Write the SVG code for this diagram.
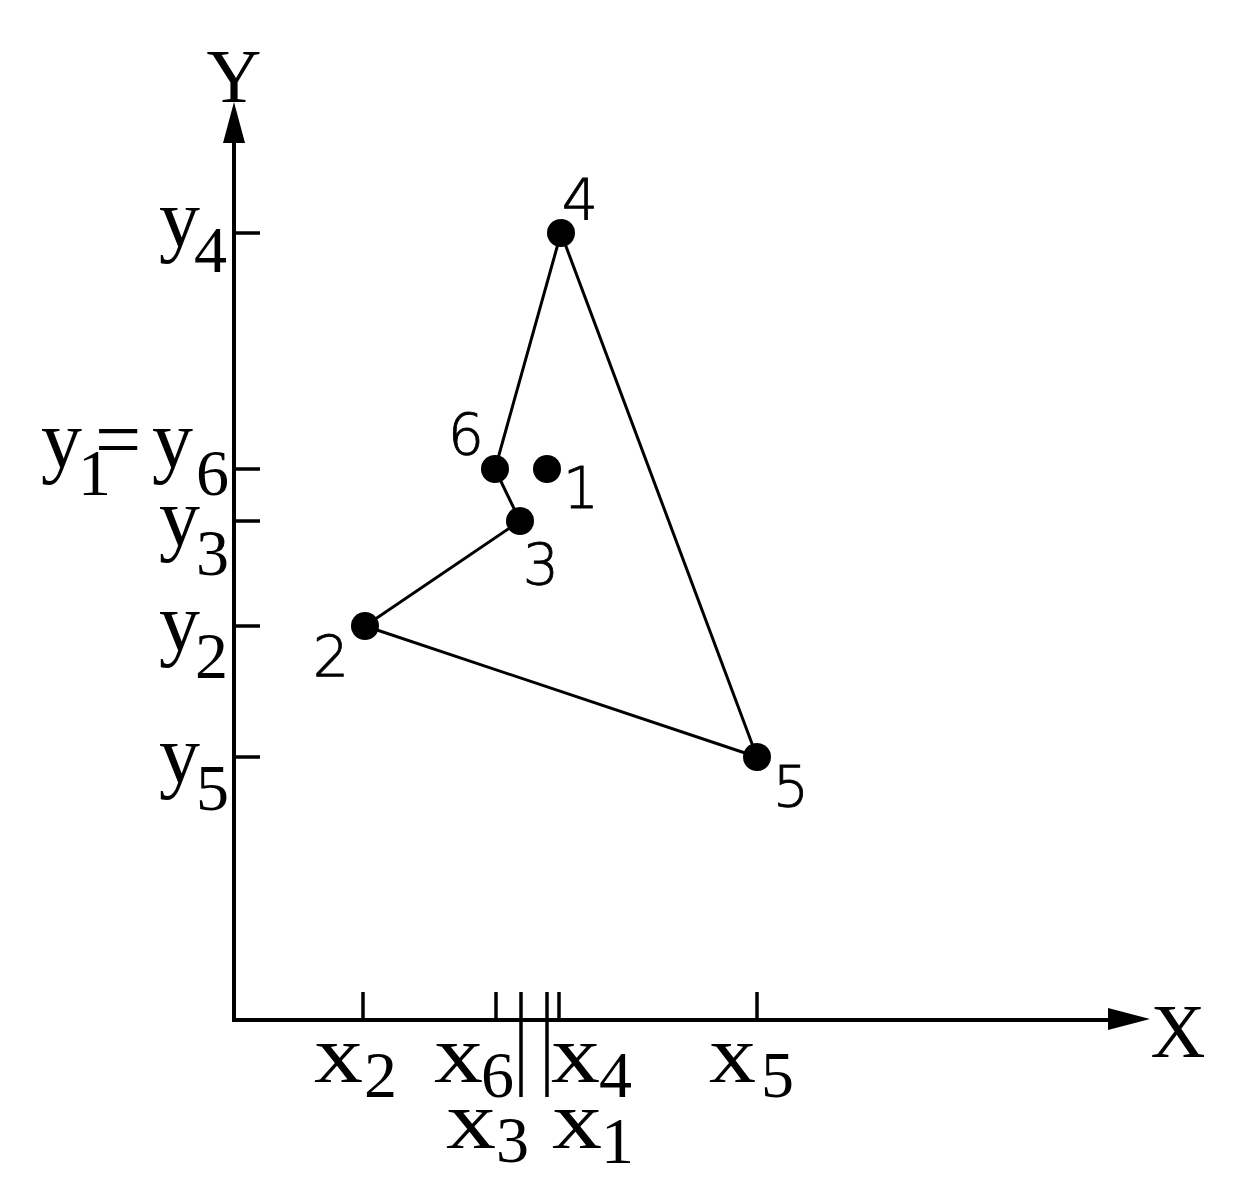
<svg xmlns="http://www.w3.org/2000/svg" width="1241" height="1199" viewBox="0 0 1241 1199">
<style>
.ax{stroke:#000;stroke-width:4;fill:none}
.tk{stroke:#000;stroke-width:3.5;fill:none}
.ed{stroke:#000;stroke-width:3;fill:none}
.pt{fill:#000}
.m{font-family:"Liberation Serif","Times New Roman",serif;font-size:82px;fill:#000}
.s{font-family:"Liberation Serif","Times New Roman",serif;font-size:66px;fill:#000}
.ax-l{font-family:"Liberation Serif","Times New Roman",serif;font-size:76px;fill:#000;text-anchor:middle}
.n{font-family:"DejaVu Sans","Liberation Sans",sans-serif;font-weight:200;font-size:57px;fill:#000;stroke:#000;stroke-width:0.8;text-anchor:middle}
</style>
<rect width="1241" height="1199" fill="#fff"/>
<g id="axes">
<line class="ax" x1="234" y1="1020" x2="234" y2="140"/>
<polygon points="234,102 223,143 245,143" fill="#000"/>
<line class="ax" x1="232" y1="1020" x2="1110" y2="1020"/>
<polygon points="1150,1019 1108,1008 1108,1030" fill="#000"/>
<text class="ax-l" x="234" y="102">Y</text>
<text class="ax-l" x="1178" y="1057">X</text>
</g>
<g id="ticks">
<line class="tk" x1="234" y1="233" x2="260" y2="233"/>
<line class="tk" x1="234" y1="469" x2="260" y2="469"/>
<line class="tk" x1="234" y1="521" x2="260" y2="521"/>
<line class="tk" x1="234" y1="626" x2="260" y2="626"/>
<line class="tk" x1="234" y1="757" x2="260" y2="757"/>
<line class="tk" x1="363" y1="992" x2="363" y2="1020"/>
<line class="tk" x1="496" y1="992" x2="496" y2="1020"/>
<line class="tk" x1="521" y1="992" x2="521" y2="1097"/>
<line class="tk" x1="547" y1="992" x2="547" y2="1097"/>
<line class="tk" x1="559" y1="992" x2="559" y2="1020"/>
<line class="tk" x1="757" y1="992" x2="757" y2="1020"/>
</g>
<g id="tick-labels">
<text class="m" x="159" y="246">y</text><text class="s" x="194" y="272">4</text>
<text class="m" x="41" y="467">y</text><text class="s" x="78" y="495">1</text><text class="m" x="95" y="467">=</text><text class="m" x="152" y="467">y</text><text class="s" x="196" y="495">6</text>
<text class="m" x="159" y="545">y</text><text class="s" x="196" y="575">3</text>
<text class="m" x="159" y="650">y</text><text class="s" x="195" y="678">2</text>
<text class="m" x="159" y="782">y</text><text class="s" x="196" y="810">5</text>
<text class="m" x="314" y="1082" textLength="49" lengthAdjust="spacingAndGlyphs">x</text><text class="s" x="364" y="1097">2</text>
<text class="m" x="434" y="1082" textLength="49" lengthAdjust="spacingAndGlyphs">x</text><text class="s" x="481" y="1097">6</text>
<text class="m" x="551" y="1082" textLength="49" lengthAdjust="spacingAndGlyphs">x</text><text class="s" x="599" y="1097">4</text>
<text class="m" x="446" y="1148" textLength="50" lengthAdjust="spacingAndGlyphs">x</text><text class="s" x="496" y="1162">3</text>
<text class="m" x="552" y="1148" textLength="50" lengthAdjust="spacingAndGlyphs">x</text><text class="s" x="601" y="1163">1</text>
<text class="m" x="709" y="1082" textLength="47" lengthAdjust="spacingAndGlyphs">x</text><text class="s" x="761" y="1097">5</text>
</g>
<g id="connectors">
<polyline class="ed" points="561,233 495,469 520,521 365,626 757,757 561,233"/>
</g>
<g id="node-1"><circle class="pt" cx="547" cy="469" r="14"/><text class="n" x="581" y="508">1</text></g>
<g id="node-2"><circle class="pt" cx="365" cy="626" r="14"/><text class="n" x="331" y="677">2</text></g>
<g id="node-3"><circle class="pt" cx="520" cy="521" r="14"/><text class="n" x="541" y="585">3</text></g>
<g id="node-4"><circle class="pt" cx="561" cy="233" r="14"/><text class="n" x="580" y="220">4</text></g>
<g id="node-5"><circle class="pt" cx="757" cy="757" r="14"/><text class="n" x="791" y="807">5</text></g>
<g id="node-6"><circle class="pt" cx="495" cy="469" r="14"/><text class="n" x="466" y="455">6</text></g>
</svg>
